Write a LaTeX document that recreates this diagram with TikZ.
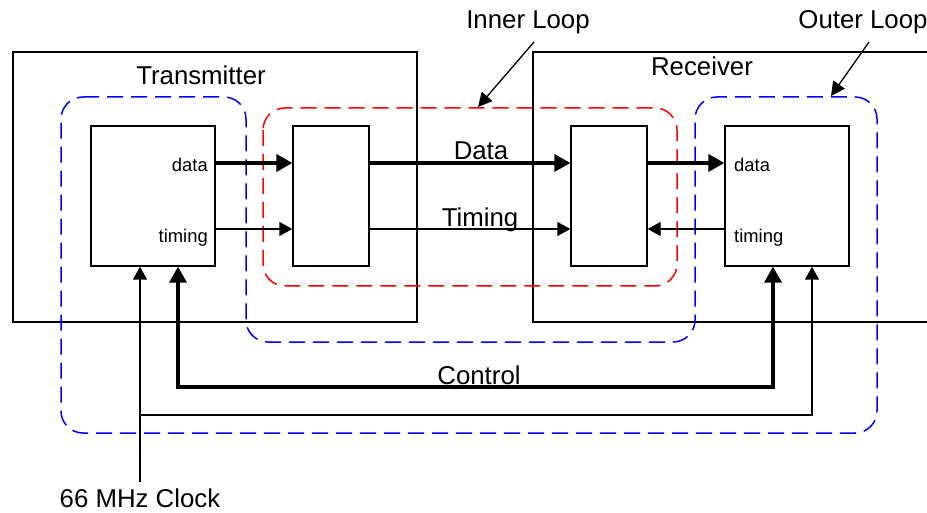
\documentclass[tikz,border=0pt]{standalone}
\usepackage{fontspec}
\setmainfont{Liberation Sans}
\usetikzlibrary{arrows.meta}
\begin{document}
\begin{tikzpicture}[x=1pt,y=-1pt,
  blk/.style={draw,line width=1.3pt,minimum height=140pt,inner sep=0pt},
  wideblk/.style={blk,minimum width=124pt},
  narrowblk/.style={blk,minimum width=76pt},
  frame/.style={line width=1.3pt},
  thinarr/.style={line width=1.3pt,-{Triangle[length=13pt,width=14pt]}},
  thickarr/.style={line width=3.5pt,-{Triangle[length=16pt,width=17pt]}},
  boththick/.style={line width=3.5pt,{Triangle[length=16pt,width=17pt]}-{Triangle[length=16pt,width=17pt]}},
  lblarr/.style={line width=1.3pt,-{Triangle[length=14pt,width=14pt]}},
  loopline/.style={line width=1.5pt,dash pattern=on 16pt off 8pt,rounded corners=22pt},
  big/.style={font=\fontsize{25.8}{30}\selectfont,inner sep=0pt},
  small/.style={font=\fontsize{18.4}{22}\selectfont,inner sep=0pt}
]
\useasboundingbox (0,0) rectangle (927,513);
% Transmitter and Receiver frames
\draw[frame] (13,52) rectangle (417,322);
\draw[frame] (935,52) -- (533,52) -- (533,322) -- (935,322);
\node[big,anchor=base] (txlbl) at (201,85) {Transmitter};
\node[big,anchor=base] (rxlbl) at (702,76) {Receiver};
% blocks
\node[wideblk] (txbox) at (153,196) {};
\node[narrowblk] (txin) at (331,196) {};
\node[narrowblk] (rxin) at (609,196) {};
\node[wideblk] (rxbox) at (787,196) {};
\node[small,anchor=base east] (txdata) at (208,172) {data};
\node[small,anchor=base east] (txtim) at (208,243) {timing};
\node[small,anchor=base west] (rxdata) at (734,172) {data};
\node[small,anchor=base west] (rxtim) at (734,243) {timing};
% loops
\draw[loopline,red] (263,108) rectangle (677,286);
\draw[loopline,blue] (61,97) -- (246,97) -- (246,342) -- (695,342) -- (695,97) -- (877,97) -- (877,433) -- (61,433) -- cycle;
% data path
\draw[thickarr] ([yshift=33pt]txbox.east) -- ([yshift=33pt]txin.west);
\draw[thickarr] ([yshift=33pt]txin.east) -- ([yshift=33pt]rxin.west);
\draw[thickarr] ([yshift=33pt]rxin.east) -- ([yshift=33pt]rxbox.west);
\node[big,anchor=base] (datalbl) at (481,160) {Data};
% timing path
\draw[thinarr] ([yshift=-33pt]txbox.east) -- ([yshift=-33pt]txin.west);
\draw[thinarr] ([yshift=-33pt]txin.east) -- ([yshift=-33pt]rxin.west);
\draw[thinarr] ([yshift=-33pt]rxbox.west) -- ([yshift=-33pt]rxin.east);
\node[big,anchor=base] (timlbl) at (480,227) {Timing};
% control
\coordinate (cl) at (178,387);
\coordinate (cr) at (773,387);
\draw[boththick] ([xshift=25pt]txbox.south) -- (cl) -- (cr) -- ([xshift=-14pt]rxbox.south);
\node[big,anchor=base] (ctllbl) at (479,384) {Control};
% clock
\coordinate (clk) at (140,482);
\coordinate (cj) at (140,415);
\coordinate (cr2) at (812,415);
\draw[thinarr] (clk) -- ([xshift=-13pt]txbox.south);
\draw[thinarr] (cj) -- (cr2) -- ([xshift=25pt]rxbox.south);
\node[big,anchor=base] (clklbl) at (140,507) {66 MHz Clock};
% loop labels
\node[big,anchor=base] (inlbl) at (528,29) {Inner Loop};
\node[big,anchor=base] (outlbl) at (863,29) {Outer Loop};
\coordinate (ins) at (534,42);
\coordinate (int) at (478,107);
\coordinate (outs) at (869,42);
\coordinate (outt) at (831,96);
\draw[lblarr] (ins) -- (int);
\draw[lblarr] (outs) -- (outt);
\end{tikzpicture}
\end{document}
